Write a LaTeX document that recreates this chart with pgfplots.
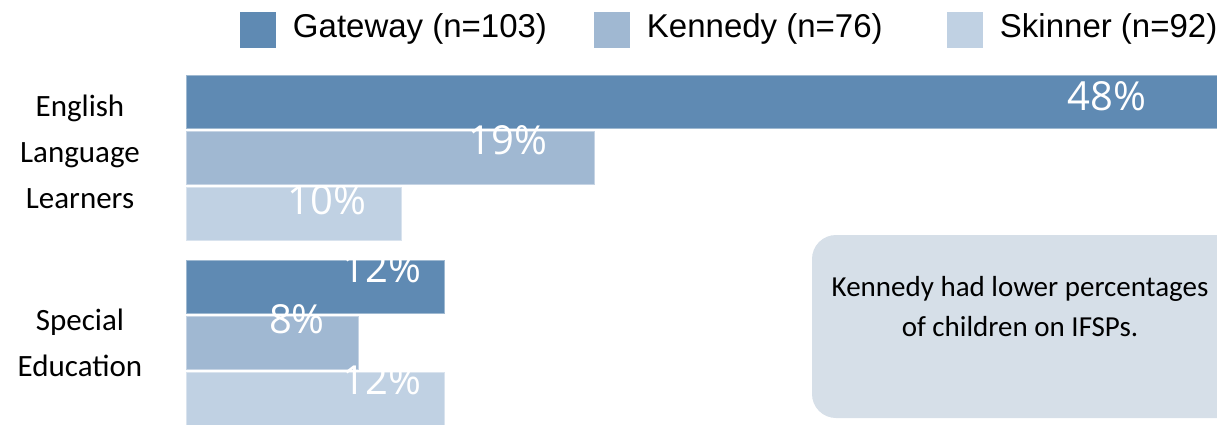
\documentclass[border=0pt]{standalone}
\usepackage{fontspec}
\setmainfont{Carlito}
\newfontfamily\legfont{Liberation Sans}
\newfontfamily\valfont{Open Sans}
\usepackage{pgfplots}
\pgfplotsset{compat=1.18}
\definecolor{cGate}{RGB}{95,138,179}
\definecolor{cKen}{RGB}{160,184,210}
\definecolor{cSkin}{RGB}{192,209,227}
\definecolor{cNote}{RGB}{214,223,232}
\begin{document}
\begin{tikzpicture}[x=1pt,y=1pt]
\path[use as bounding box] (0,0) rectangle (1217,424);
\fill[cNote, rounded corners=24pt] (812,6) rectangle (1260,189);
\node[align=center, font=\fontsize{29}{40}\selectfont] at (1020,117) {Kennedy had lower percentages\\of children on IFSPs.};
\begin{axis}[
 at={(186pt,0pt)}, anchor=south west,
 scale only axis, width=1032pt, height=349pt,
 xmin=0, xmax=48, ymin=-0.44054, ymax=1.44595,
 axis line style={draw=none}, tick style={draw=none},
 xtick=\empty, ytick={0,1.032},
 yticklabels={Special\\Education, English\\Language\\Learners},
 yticklabel style={align=center, anchor=center, xshift=-106pt, font=\fontsize{31}{46}\selectfont},
 clip=false,
 legend style={at={(axis description cs:0.0523,1.1805)}, anchor=north west, draw=none, fill=none, inner sep=0pt, outer sep=0pt, legend columns=3, font=\legfont\fontsize{33}{40}\selectfont, nodes={inner sep=0pt}, /tikz/every odd column/.append style={column sep=17pt}},
 legend image code/.code={\fill[#1,draw=none] (0pt,-22pt) rectangle (36pt,14pt);},
]
\addplot[xbar, bar width=53pt, bar shift=56pt, fill=cGate, draw=cGate!60!white, line width=0.8pt] coordinates {(48,1) (12,0)};
\addlegendentry{\makebox[301pt][l]{Gateway (n=103)}}
\addplot[xbar, bar width=53pt, bar shift=0pt, fill=cKen, draw=cKen!60!white, line width=0.8pt] coordinates {(19,1) (8,0)};
\addlegendentry{\makebox[300pt][l]{Kennedy (n=76)}}
\addplot[xbar, bar width=53pt, bar shift=-56pt, fill=cSkin, draw=cSkin!60!white, line width=0.8pt] coordinates {(10,1) (12,0)};
\addlegendentry{Skinner (n=92)}
\addplot[forget plot, draw=none, mark=none, nodes near coords, point meta=explicit symbolic, every node near coord/.append style={anchor=center, text=white, font=\valfont\fontsize{40}{40}\selectfont}] coordinates {(42.84,1.332) [48\%] (14.98,1.095) [19\%] (6.56,0.770) [10\%] (9.12,0.403) [12\%] (5.16,0.127) [8\%] (9.12,-0.203) [12\%]};
\end{axis}
\end{tikzpicture}
\end{document}
